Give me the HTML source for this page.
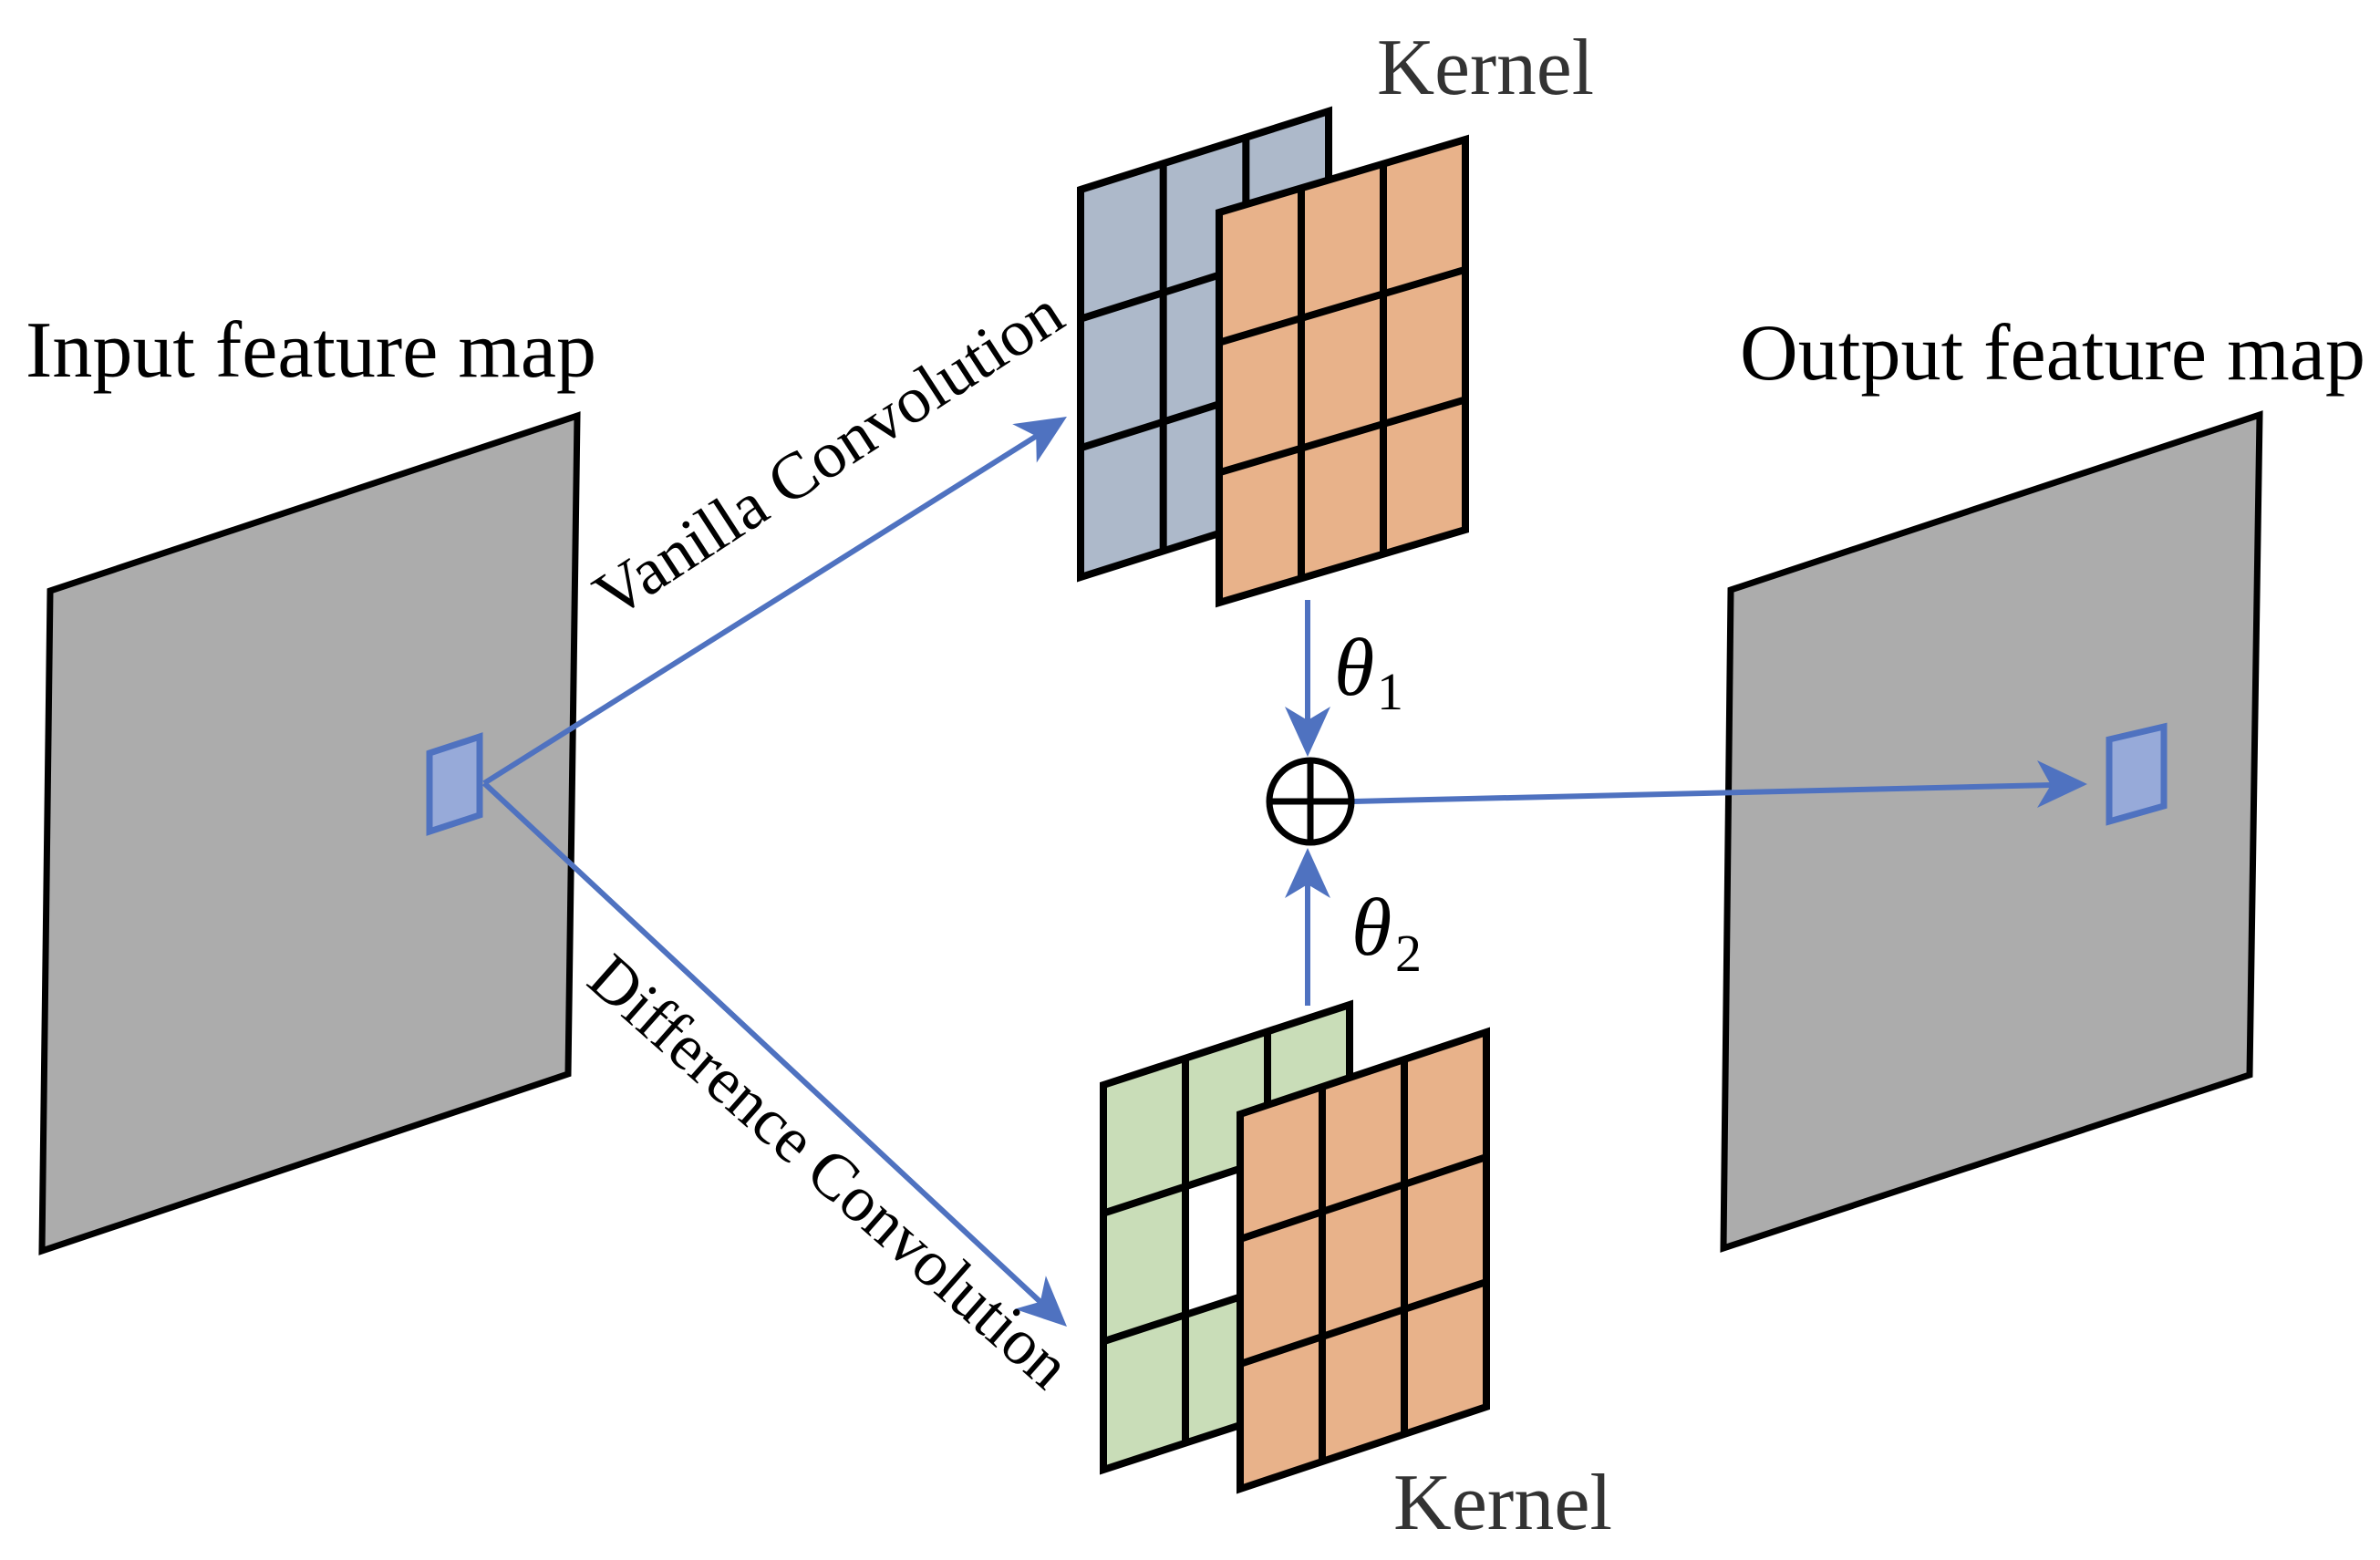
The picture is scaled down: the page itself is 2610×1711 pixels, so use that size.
<!DOCTYPE html>
<html><head><meta charset="utf-8"><style>html,body{margin:0;padding:0;background:#fff}svg{display:block}
text{font-family:"Liberation Serif","DejaVu Serif","Times New Roman",serif}</style></head>
<body>
<svg width="2610" height="1711" viewBox="0 0 2610 1711" xmlns="http://www.w3.org/2000/svg">
<g>
<!-- input map -->
<polygon points="55,648 633,456 623,1178 46,1372" fill="#acacac" stroke="#000" stroke-width="7" stroke-linejoin="miter"/>
<polygon points="471,826 526,808 526,894 471,912" fill="#97aad9" stroke="#4f72c0" stroke-width="7"/>
<!-- output map -->
<polygon points="1898,647 2478,455 2467,1179 1890,1369" fill="#acacac" stroke="#000" stroke-width="7"/>
<polygon points="2313,811 2373,797 2373,884 2313,901" fill="#97aad9" stroke="#4f72c0" stroke-width="7"/>

<!-- kernels -->
<g transform="matrix(90.67,-28.67,0,141.67,1185,208)" stroke="#000" stroke-width="8" fill="none">
<rect x="0" y="0" width="3" height="3" fill="#adb9ca" stroke="none"/>
<path d="M1,0V3M2,0V3M0,1H3M0,2H3M0,0H3V3H0Z" vector-effect="non-scaling-stroke"/>
</g>
<g transform="matrix(90,-26.67,0,142.67,1337,233)" stroke="#000" stroke-width="8" fill="none">
<rect x="0" y="0" width="3" height="3" fill="#e8b28a" stroke="none"/>
<path d="M1,0V3M2,0V3M0,1H3M0,2H3M0,0H3V3H0Z" vector-effect="non-scaling-stroke"/>
</g>
<g transform="matrix(90,-29.33,0,140.67,1210,1190)" stroke="#000" stroke-width="8" fill="none">
<rect x="0" y="0" width="3" height="3" fill="#c9ddb8" stroke="none"/>
<rect x="1" y="1" width="1" height="1" fill="#fff" stroke="none"/>
<path d="M1,0V3M2,0V3M0,1H3M0,2H3M0,0H3V3H0Z" vector-effect="non-scaling-stroke"/>
</g>
<g transform="matrix(90,-30,0,137,1360,1222)" stroke="#000" stroke-width="8" fill="none">
<rect x="0" y="0" width="3" height="3" fill="#e8b28a" stroke="none"/>
<path d="M1,0V3M2,0V3M0,1H3M0,2H3M0,0H3V3H0Z" vector-effect="non-scaling-stroke"/>
</g>

<!-- arrows -->
<g stroke="#4f72c0" stroke-width="6" fill="none">
<line x1="531" y1="859" x2="1137" y2="478"/>
<line x1="531" y1="859" x2="1141" y2="1428"/>
<line x1="1434" y1="658" x2="1434" y2="792"/>
<line x1="1434" y1="1103" x2="1434" y2="968"/>
<line x1="1484" y1="879" x2="2250" y2="861"/>
</g>
<g fill="#4f72c0">
<polygon points="1170,457 1136.8,507.5 1136.2,478.3 1110.2,465.1"/>
<polygon points="1170,1455 1112.7,1435.8 1140.8,1427.7 1146.9,1399.2"/>
<polygon points="1434,830 1409,775 1434,790 1459,775"/>
<polygon points="1434,930 1409,985 1434,970 1459,985"/>
<polygon points="2289,860 2234,886 2249,861 2234,834"/>
</g>

<!-- circle plus -->
<circle cx="1437" cy="879" r="45" fill="#fff" stroke="#000" stroke-width="7"/>
<path d="M1392,879H1482M1437,834V924" stroke="#000" stroke-width="7"/>

<!-- labels -->
<text x="28" y="413" font-size="88" textLength="626" lengthAdjust="spacingAndGlyphs" fill="#000">Input feature map</text>
<text x="1908" y="416" font-size="88" textLength="686" lengthAdjust="spacingAndGlyphs" fill="#000">Output feature map</text>
<text x="1510" y="103" font-size="88" textLength="238" lengthAdjust="spacingAndGlyphs" fill="#333">Kernel</text>
<text x="1528" y="1677" font-size="88" textLength="240" lengthAdjust="spacingAndGlyphs" fill="#333">Kernel</text>
<text transform="translate(672,680) rotate(-33)" font-size="72" textLength="595" lengthAdjust="spacingAndGlyphs" fill="#000">Vanilla Convolution</text>
<text transform="translate(641,1079) rotate(41.5)" font-size="72" textLength="675" lengthAdjust="spacingAndGlyphs" fill="#000">Difference Convolution</text>
<text x="1463" y="762" font-size="90" font-style="italic" fill="#000">θ</text>
<text x="1510" y="778" font-size="58" fill="#000">1</text>
<text x="1482" y="1047" font-size="90" font-style="italic" fill="#000">θ</text>
<text x="1530" y="1065" font-size="58" fill="#000">2</text>
</g>
</svg>
</body></html>
